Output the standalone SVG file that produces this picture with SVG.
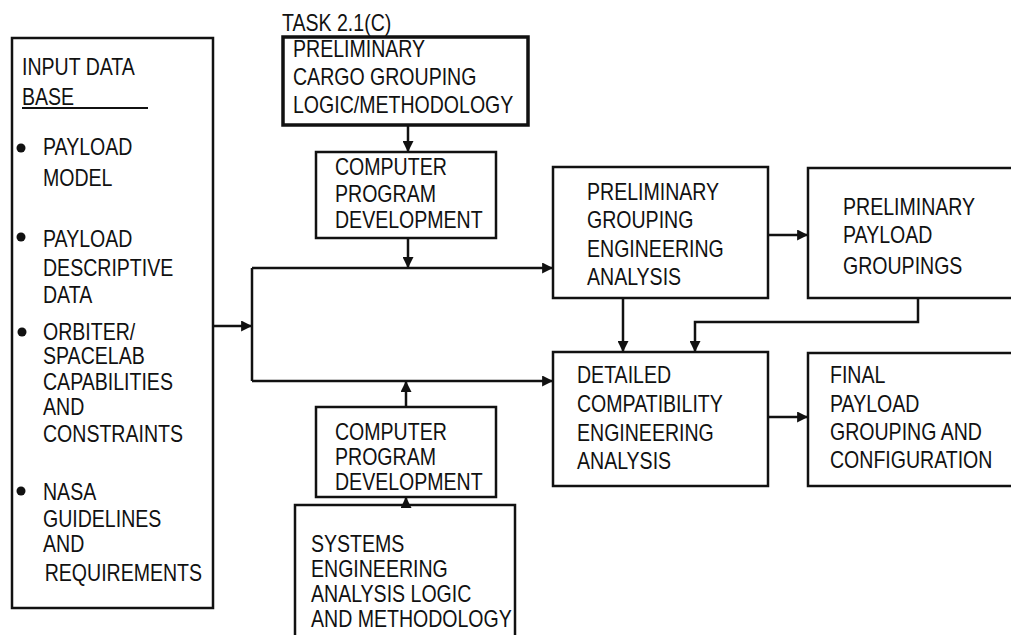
<svg xmlns="http://www.w3.org/2000/svg" width="1011" height="635" viewBox="0 0 1011 635">
<style>
.box{fill:none;stroke:#111;stroke-width:2.5}
.thick{fill:none;stroke:#111;stroke-width:3.5}
.t{font-family:"Liberation Sans",Arial,sans-serif;font-size:23px;fill:#111}
.c{fill:none;stroke:#111;stroke-width:2.5}
</style>
<defs>
<marker id="ah" viewBox="0 0 10 10" refX="9" refY="5" markerWidth="4.4" markerHeight="4.4" orient="auto" markerUnits="strokeWidth">
<path d="M0,0 L10,5 L0,10 Z" fill="#111"/>
</marker>
</defs>
<rect width="1011" height="635" fill="#fff"/>
<g id="input">
<rect class="box" x="12" y="38" width="201" height="570"/>
<line x1="22" y1="108" x2="148" y2="108" stroke="#111" stroke-width="2"/>
<circle cx="21" cy="148" r="4.5" fill="#111"/>
<circle cx="21" cy="237" r="4.5" fill="#111"/>
<circle cx="22" cy="332" r="4.5" fill="#111"/>
<circle cx="21" cy="491" r="4.5" fill="#111"/>
<g transform="translate(22,0) scale(0.85,1)">
<text class="t" x="0" y="75">INPUT DATA</text>
<text class="t" x="0" y="105">BASE</text>
</g>
<g transform="translate(43,0) scale(0.85,1)">
<text class="t" x="0" y="155">PAYLOAD</text>
<text class="t" x="0" y="186">MODEL</text>
<text class="t" x="0" y="247">PAYLOAD</text>
<text class="t" x="0" y="276">DESCRIPTIVE</text>
<text class="t" x="0" y="303">DATA</text>
<text class="t" x="0" y="340">ORBITER/</text>
<text class="t" x="0" y="364">SPACELAB</text>
<text class="t" x="0" y="390">CAPABILITIES</text>
<text class="t" x="0" y="415">AND</text>
<text class="t" x="0" y="442">CONSTRAINTS</text>
<text class="t" x="0" y="500">NASA</text>
<text class="t" x="0" y="527">GUIDELINES</text>
<text class="t" x="0" y="552">AND</text>
<text class="t" x="2" y="581">REQUIREMENTS</text>
</g>
</g>
<g id="task">
<rect class="thick" x="283" y="37" width="245" height="88"/>
<g transform="translate(282,0) scale(0.85,1)">
<text class="t" x="0" y="31">TASK 2.1(C)</text>
</g>
<g transform="translate(293,0) scale(0.85,1)">
<text class="t" x="0" y="57">PRELIMINARY</text>
<text class="t" x="0" y="85">CARGO GROUPING</text>
<text class="t" x="0" y="113">LOGIC/METHODOLOGY</text>
</g>
</g>
<g id="cpd1">
<rect class="box" x="316" y="152" width="180" height="86"/>
<g transform="translate(335,0) scale(0.85,1)">
<text class="t" x="0" y="175">COMPUTER</text>
<text class="t" x="0" y="202">PROGRAM</text>
<text class="t" x="0" y="228">DEVELOPMENT</text>
</g>
</g>
<g id="cpd2">
<rect class="box" x="316" y="407" width="180" height="90"/>
<g transform="translate(335,0) scale(0.85,1)">
<text class="t" x="0" y="440">COMPUTER</text>
<text class="t" x="0" y="465">PROGRAM</text>
<text class="t" x="0" y="490">DEVELOPMENT</text>
</g>
</g>
<g id="systems">
<rect class="box" x="295" y="505" width="220" height="140"/>
<g transform="translate(311,0) scale(0.85,1)">
<text class="t" x="0" y="552">SYSTEMS</text>
<text class="t" x="0" y="577">ENGINEERING</text>
<text class="t" x="0" y="602">ANALYSIS LOGIC</text>
<text class="t" x="0" y="627">AND METHODOLOGY</text>
</g>
</g>
<g id="pgea">
<rect class="box" x="553" y="167" width="215" height="131"/>
<g transform="translate(587,0) scale(0.85,1)">
<text class="t" x="0" y="200">PRELIMINARY</text>
<text class="t" x="0" y="228">GROUPING</text>
<text class="t" x="0" y="257">ENGINEERING</text>
<text class="t" x="0" y="285">ANALYSIS</text>
</g>
</g>
<g id="ppg">
<rect class="box" x="808" y="168" width="215" height="130"/>
<g transform="translate(843,0) scale(0.85,1)">
<text class="t" x="0" y="215">PRELIMINARY</text>
<text class="t" x="0" y="243">PAYLOAD</text>
<text class="t" x="0" y="274">GROUPINGS</text>
</g>
</g>
<g id="dcea">
<rect class="box" x="553" y="352" width="215" height="134"/>
<g transform="translate(577,0) scale(0.85,1)">
<text class="t" x="0" y="383">DETAILED</text>
<text class="t" x="0" y="412">COMPATIBILITY</text>
<text class="t" x="0" y="441">ENGINEERING</text>
<text class="t" x="0" y="469">ANALYSIS</text>
</g>
</g>
<g id="final">
<rect class="box" x="808" y="353" width="215" height="133"/>
<g transform="translate(830,0) scale(0.85,1)">
<text class="t" x="0" y="383">FINAL</text>
<text class="t" x="0" y="412">PAYLOAD</text>
<text class="t" x="0" y="440">GROUPING AND</text>
<text class="t" x="0" y="468">CONFIGURATION</text>
</g>
</g>
<g id="connectors">
<line class="c" x1="213" y1="326" x2="251" y2="326" marker-end="url(#ah)"/>
<polyline class="c" points="252,268 252,381"/>
<line class="c" x1="252" y1="268" x2="552" y2="268" marker-end="url(#ah)"/>
<line class="c" x1="252" y1="381" x2="552" y2="381" marker-end="url(#ah)"/>
<line class="c" x1="408" y1="125" x2="408" y2="151" marker-end="url(#ah)"/>
<line class="c" x1="408" y1="238" x2="408" y2="267" marker-end="url(#ah)"/>
<line class="c" x1="406" y1="407" x2="406" y2="382" marker-end="url(#ah)"/>
<line class="c" x1="406" y1="505" x2="406" y2="498" marker-end="url(#ah)"/>
<line class="c" x1="768" y1="235" x2="807" y2="235" marker-end="url(#ah)"/>
<line class="c" x1="623" y1="298" x2="623" y2="351" marker-end="url(#ah)"/>
<polyline class="c" points="918,298 918,322 695,322 695,351" marker-end="url(#ah)"/>
<line class="c" x1="768" y1="417" x2="807" y2="417" marker-end="url(#ah)"/>
</g>
</svg>
